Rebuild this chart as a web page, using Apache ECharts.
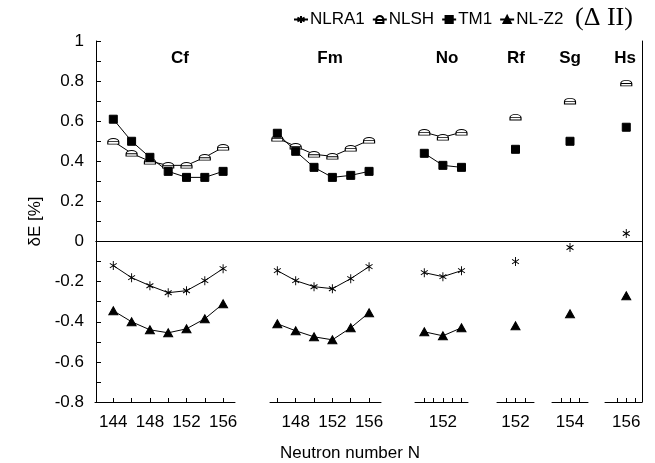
<!DOCTYPE html>
<html>
<head>
<meta charset="utf-8">
<script src="https://cdn.jsdelivr.net/npm/echarts@6/dist/echarts.min.js"></script>
<style>
html,body{margin:0;padding:0;background:#fff;}
#chart{width:655px;height:463px;}
</style>
</head>
<body>
<div id="chart"></div>
<script>
// ---------- data ----------
const seriesNames = ['NLRA1', 'NLSH', 'TM1', 'NL-Z2'];
const panelNames = ['Cf', 'Fm', 'No', 'Rf', 'Sg', 'Hs'];

const cfN = [144, 146, 148, 150, 152, 154, 156];
const cfNLRA1 = [-0.12, -0.18, -0.22, -0.255, -0.245, -0.195, -0.135];
const cfNLSH = [0.50, 0.44, 0.40, 0.38, 0.38, 0.42, 0.47];
const cfTM1 = [0.61, 0.50, 0.42, 0.35, 0.32, 0.32, 0.35];
const cfNLZ2 = [-0.345, -0.40, -0.44, -0.455, -0.435, -0.385, -0.31];
const cfTickLabels = [144, 148, 152, 156];
const cfTicks = [144, 146, 148, 150, 152, 154, 156];

const fmN = [146, 148, 150, 152, 154, 156];
const fmNLRA1 = [-0.145, -0.195, -0.225, -0.235, -0.185, -0.125];
const fmNLSH = [0.515, 0.475, 0.435, 0.425, 0.465, 0.505];
const fmTM1 = [0.54, 0.45, 0.37, 0.32, 0.33, 0.35];
const fmNLZ2 = [-0.41, -0.445, -0.475, -0.49, -0.43, -0.355];
const fmTickLabels = [148, 152, 156];
const fmTicks = [146, 148, 150, 152, 154, 156];

const noN = [150, 152, 154];
const noNLRA1 = [-0.155, -0.175, -0.145];
const noNLSH = [0.545, 0.52, 0.545];
const noTM1 = [0.44, 0.38, 0.37];
const noNLZ2 = [-0.45, -0.47, -0.43];
const noTickLabels = [152];
const noTicks = [150, 151, 152, 153, 154];

const rfN = [152];
const rfNLRA1 = [-0.10];
const rfNLSH = [0.62];
const rfTM1 = [0.46];
const rfNLZ2 = [-0.42];
const rfTickLabels = [152];
const rfTicks = [151, 152, 153];

const sgN = [154];
const sgNLRA1 = [-0.03];
const sgNLSH = [0.70];
const sgTM1 = [0.50];
const sgNLZ2 = [-0.36];
const sgTickLabels = [154];
const sgTicks = [153, 154, 155];

const hsN = [156];
const hsNLRA1 = [0.04];
const hsNLSH = [0.79];
const hsTM1 = [0.57];
const hsNLZ2 = [-0.27];
const hsTickLabels = [156];
const hsTicks = [155, 156, 157];

const yTickMin = -0.8, yTickMax = 1, yTickStep = 0.2;

// ---------- layout (positions/styles only) ----------
const FONT = "'Liberation Sans', Arial, sans-serif";
const TOP = 41, HEIGHT = 361;
const panels = [
  {name: panelNames[0], n: cfN, vals: [cfNLRA1, cfNLSH, cfTM1, cfNLZ2], labels: cfTickLabels, ticks: cfTicks, left: 95, width: 140, min: 142, max: 157.3},
  {name: panelNames[1], n: fmN, vals: [fmNLRA1, fmNLSH, fmTM1, fmNLZ2], labels: fmTickLabels, ticks: fmTicks, left: 270, width: 111, min: 145.2, max: 157.3},
  {name: panelNames[2], n: noN, vals: [noNLRA1, noNLSH, noTM1, noNLZ2], labels: noTickLabels, ticks: noTicks, left: 415, width: 53, min: 149, max: 154.7},
  {name: panelNames[3], n: rfN, vals: [rfNLRA1, rfNLSH, rfTM1, rfNLZ2], labels: rfTickLabels, ticks: rfTicks, left: 497, width: 37, min: 150, max: 154},
  {name: panelNames[4], n: sgN, vals: [sgNLRA1, sgNLSH, sgTM1, sgNLZ2], labels: sgTickLabels, ticks: sgTicks, left: 552, width: 36, min: 152, max: 156},
  {name: panelNames[5], n: hsN, vals: [hsNLRA1, hsNLSH, hsTM1, hsNLZ2], labels: hsTickLabels, ticks: hsTicks, left: 605, width: 37, min: 153.7, max: 157.7}
];
const titleX = [180, 330, 447, 516, 570, 625];

const symbols = {
  'NLRA1': {symbol: 'path://M0,-5L0,5M-4.33,-2.5L4.33,2.5M-4.33,2.5L4.33,-2.5', size: [8, 9], fill: '#000'},
  'NLSH': {symbol: 'path://M-5,3L5,3L5,0C5,-2.5 2.5,-4 0,-4C-2.5,-4 -5,-2.5 -5,0ZM-5,0L5,0', size: [11, 8], fill: '#fff'},
  'TM1': {symbol: 'rect', size: 8, fill: '#000'},
  'NL-Z2': {symbol: 'triangle', size: [9, 8], fill: '#000'}
};

const grids = [{left: 96, top: TOP, width: 546, height: HEIGHT, containLabel: false}];
const xAxes = [
  {gridIndex: 0, type: 'value', position: 'top', min: 0, max: 1,
   axisLine: {show: true, lineStyle: {color: '#000', width: 1}}, axisTick: {show: false}, axisLabel: {show: false}, splitLine: {show: false}},
  {gridIndex: 0, type: 'value', position: 'bottom', min: 0, max: 1,
   axisLine: {show: true, onZero: true, lineStyle: {color: '#000', width: 1}}, axisTick: {show: false}, axisLabel: {show: false}, splitLine: {show: false}}
];
const yAxes = [
  {gridIndex: 0, type: 'value', position: 'left', min: yTickMin, max: yTickMax, interval: yTickStep,
   name: 'δE [%]', nameLocation: 'middle', nameGap: 52, nameRotate: 90,
   nameTextStyle: {fontFamily: FONT, fontSize: 17, color: '#000'},
   axisLine: {show: true, onZero: false, lineStyle: {color: '#000', width: 1}},
   axisTick: {show: true, inside: true, length: 5, lineStyle: {color: '#000'}},
   minorTick: {show: true, splitNumber: 2, length: 5, lineStyle: {color: '#000'}},
   axisLabel: {fontFamily: FONT, fontSize: 17, color: '#000', margin: 12},
   splitLine: {show: false}},
  {gridIndex: 0, type: 'value', position: 'right', min: yTickMin, max: yTickMax,
   axisLine: {show: true, onZero: false, lineStyle: {color: '#000', width: 1}}, axisTick: {show: false}, axisLabel: {show: false}, splitLine: {show: false}}
];
const series = [
  {type: 'line', xAxisIndex: 0, yAxisIndex: 0, data: [], silent: true}
];
const titles = [];
const AXIS_OFFSET = xAxes.length; // frame axes come first

panels.forEach((p, i) => {
  const gi = i + 1;
  const ai = i + AXIS_OFFSET;
  grids.push({left: p.left, top: TOP, width: p.width, height: HEIGHT, containLabel: false});
  xAxes.push({
    gridIndex: gi, type: 'value', position: 'bottom', min: p.min, max: p.max,
    axisLine: {show: true, onZero: false, lineStyle: {color: '#000', width: 1}},
    axisTick: {show: true, inside: true, length: 4, customValues: p.ticks, lineStyle: {color: '#000'}},
    axisLabel: {show: true, customValues: p.labels, fontFamily: FONT, fontSize: 17, color: '#000', margin: 12},
    splitLine: {show: false}
  });
  yAxes.push({gridIndex: gi, type: 'value', show: false, min: yTickMin, max: yTickMax});
  seriesNames.forEach((sn, k) => {
    const sym = symbols[sn];
    series.push({
      name: sn, type: 'line', xAxisIndex: ai, yAxisIndex: ai,
      data: p.n.map((x, j) => [x, p.vals[k][j]]),
      symbol: sym.symbol, symbolSize: sym.size, symbolKeepAspect: true,
      showAllSymbol: true,
      lineStyle: {color: '#000', width: 1},
      itemStyle: {color: sym.fill, borderColor: '#000', borderWidth: 1},
      emphasis: {disabled: true},
      z: 3
    });
  });
  titles.push({
    text: p.name, left: titleX[i], top: 50, textAlign: 'center', padding: 0,
    textStyle: {fontFamily: FONT, fontSize: 17, fontWeight: 'bold', color: '#000'}
  });
});

titles.push({text: 'Neutron number N', left: 350, top: 445, textAlign: 'center', padding: 0,
  textStyle: {fontFamily: FONT, fontSize: 17, fontWeight: 'normal', color: '#000'}});
titles.push({text: '(Δ II)', left: 575, top: 5, padding: 0,
  textStyle: {fontFamily: "'Liberation Serif', 'Times New Roman', serif", fontSize: 26, fontWeight: 'normal', color: '#000'}});

const option = {
  animation: false,
  backgroundColor: '#fff',
  title: titles,
  legend: {
    data: seriesNames, left: 293, top: 11, itemWidth: 14, itemHeight: 9, itemGap: 7,
    textStyle: {fontFamily: FONT, fontSize: 17, color: '#000', padding: [0, 0, 0, -3]},
    selectedMode: false, padding: 0
  },
  grid: grids,
  xAxis: xAxes,
  yAxis: yAxes,
  series: series
};

const chart = echarts.init(document.getElementById('chart'), null, {renderer: 'canvas'});
chart.setOption(option);
</script>
</body>
</html>
